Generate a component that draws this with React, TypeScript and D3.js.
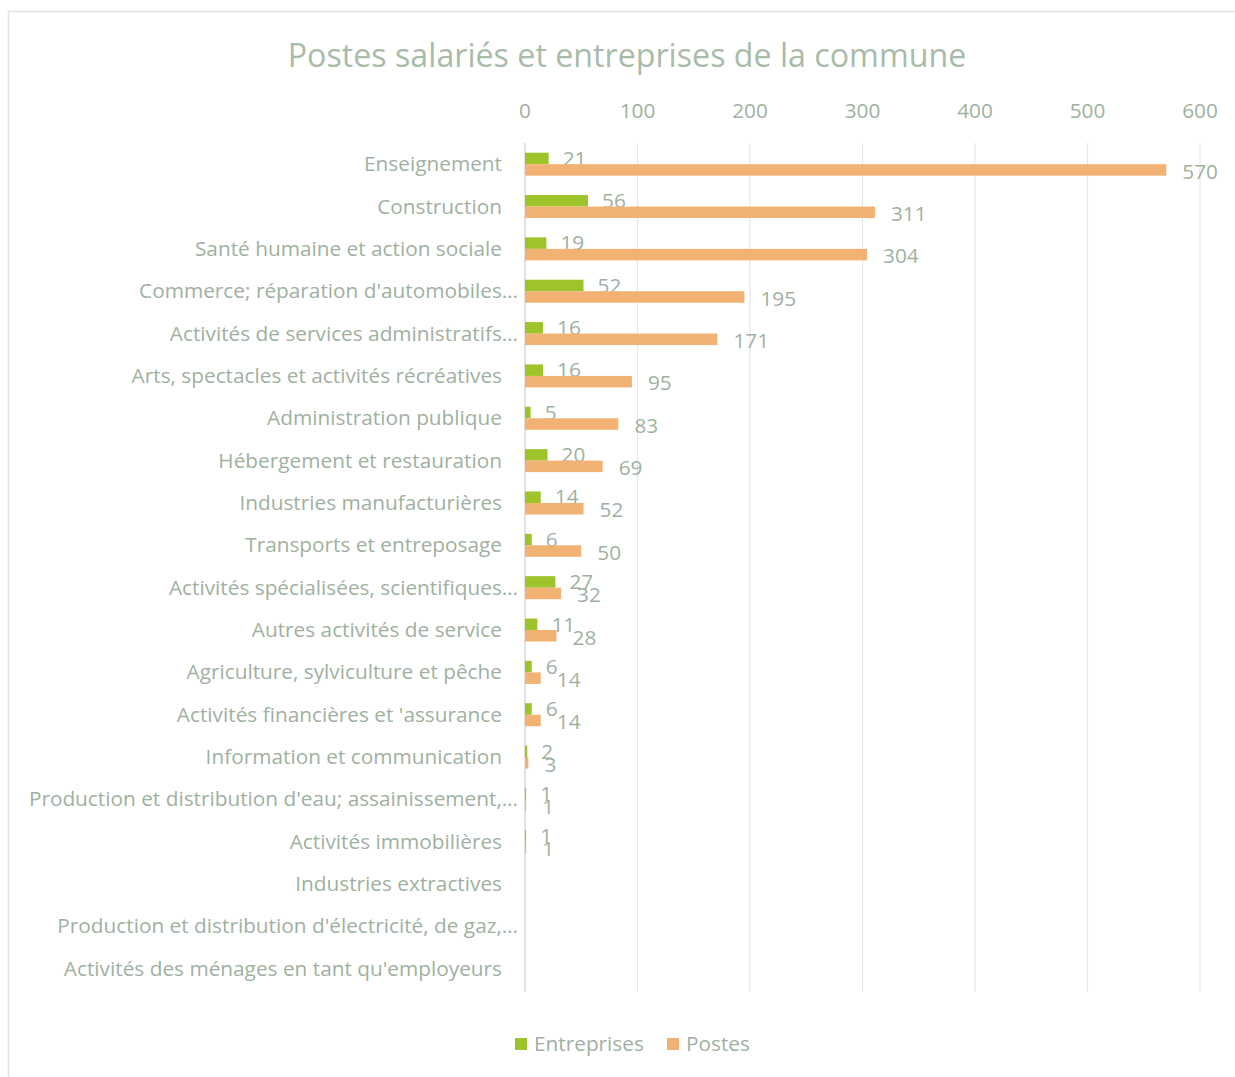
import React from "react";
import * as d3 from "d3";

const categories = [
  "Enseignement",
  "Construction",
  "Santé humaine et action sociale",
  "Commerce; réparation d'automobiles…",
  "Activités de services administratifs…",
  "Arts, spectacles et activités récréatives",
  "Administration publique",
  "Hébergement et restauration",
  "Industries manufacturières",
  "Transports et entreposage",
  "Activités spécialisées, scientifiques…",
  "Autres activités de service",
  "Agriculture, sylviculture et pêche",
  "Activités financières et 'assurance",
  "Information et communication",
  "Production et distribution d'eau; assainissement,…",
  "Activités immobilières",
  "Industries extractives",
  "Production et distribution d'électricité, de gaz,…",
  "Activités des ménages en tant qu'employeurs",
];
const entreprises: (number | null)[] = [21, 56, 19, 52, 16, 16, 5, 20, 14, 6, 27, 11, 6, 6, 2, 1, 1, null, null, null];
const postes: (number | null)[] = [570, 311, 304, 195, 171, 95, 83, 69, 52, 50, 32, 28, 14, 14, 3, 1, 1, null, null, null];
const ticks = [0, 100, 200, 300, 400, 500, 600];

const W = 1235;
const H = 1077;
const TEXT = "#9fb19f";
const GREEN = "#9dc42a";
const ORANGE = "#f1b273";
const FONT = "'Open Sans', sans-serif";
const FS = 20.8;

export default function App() {
  const x = d3.scaleLinear().domain([0, 600]).range([525, 1200]);
  const y = d3.scaleBand<string>().domain(categories).range([143, 990]);
  const barH = 11.5;

  return (
    <svg width={W} height={H} style={{ position: "absolute", left: 0, top: 0 }} fontFamily={FONT}>
      <rect x={0} y={0} width={W} height={H} fill="#fff" />
      <rect x={8.5} y={11.5} width={W + 10} height={H + 10} fill="none" stroke="#e3e3e3" strokeWidth={1.5} />
      <text x={627} y={67} textAnchor="middle" fontSize={32.2} fill="#a9bba9">
        Postes salariés et entreprises de la commune
      </text>
      {ticks.map((t) => (
        <g key={t}>
          <line x1={x(t)} x2={x(t)} y1={143} y2={992} stroke={t === 0 ? "#d9d9d9" : "#e6e6e6"} strokeWidth={t === 0 ? 1.5 : 1.2} />
          <text x={x(t)} y={118} textAnchor="middle" fontSize={FS} fill={TEXT}>
            {t}
          </text>
        </g>
      ))}
      {categories.map((c, i) => {
        const cy = (y(c) as number) + y.bandwidth() / 2;
        const trunc = c.endsWith("…");
        const e = entreprises[i];
        const p = postes[i];
        return (
          <g key={c}>
            <text x={trunc ? 518 : 502} y={cy + 7} textAnchor="end" fontSize={FS} fill={TEXT}>
              {c}
            </text>
            {e != null && (
              <>
                <rect x={x(0)} y={cy - barH} width={x(e) - x(0)} height={barH} fill={GREEN} />
                <text x={x(e) + 14} y={cy + 1.5} fontSize={FS} fill={TEXT}>
                  {e}
                </text>
              </>
            )}
            {p != null && (
              <>
                <rect x={x(0)} y={cy} width={x(p) - x(0)} height={barH} fill={ORANGE} />
                <text x={x(p) + 16} y={cy + 14.5} fontSize={FS} fill={TEXT}>
                  {p}
                </text>
              </>
            )}
          </g>
        );
      })}
      <rect x={515} y={1038} width={12} height={12} fill={GREEN} />
      <text x={534} y={1051} fontSize={FS} fill={TEXT}>Entreprises</text>
      <rect x={667} y={1038} width={12} height={12} fill={ORANGE} />
      <text x={686} y={1051} fontSize={FS} fill={TEXT}>Postes</text>
    </svg>
  );
}
